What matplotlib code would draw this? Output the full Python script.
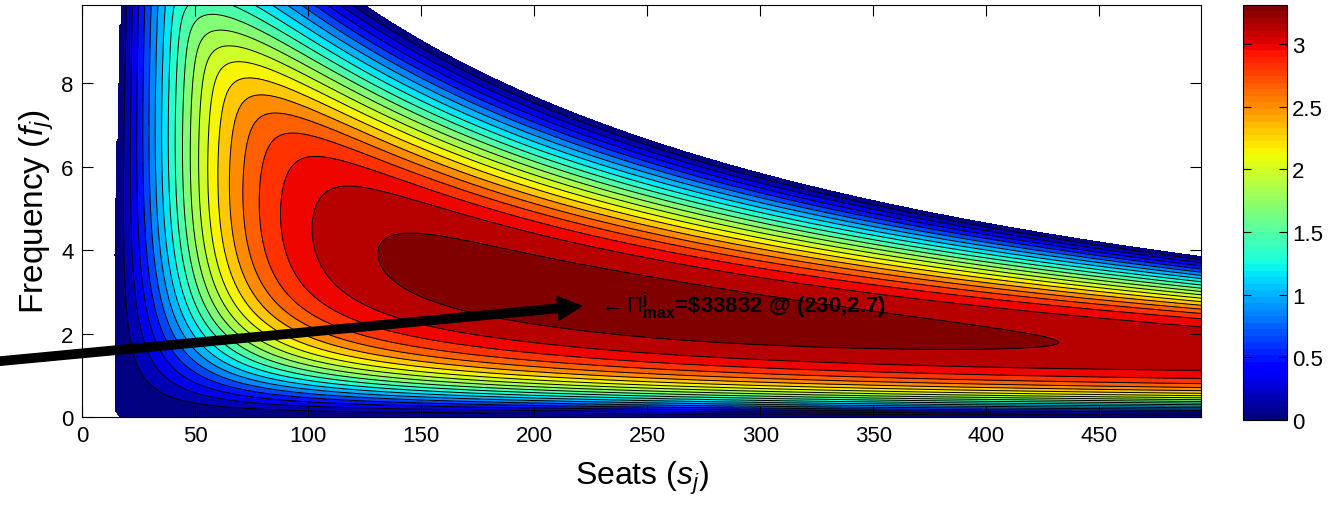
import numpy as np
import matplotlib
matplotlib.use('Agg')
import matplotlib.pyplot as plt
from matplotlib import colors

plt.rcParams['font.family'] = ['Liberation Sans', 'DejaVu Sans']
plt.rcParams['mathtext.fontset'] = 'custom'
plt.rcParams['mathtext.rm'] = 'Liberation Sans'
plt.rcParams['mathtext.it'] = 'Liberation Sans:italic'
plt.rcParams['mathtext.bf'] = 'Liberation Sans:bold'

# Shape of the profit surface (profit in 10^4 $)
seat_range = [0, 495]
freq_range = [0, 9.88]
peak_profit = 3.536           # ridge height scale
breakeven_seats = [12.5, 0.45]  # left zero contour s0 = a + b*f
seat_scale = [52.0, 0.3]      # rise with seats, tanh((s - s0) / (a + b*f))
ridge_coef = [96.6, 0.661]    # ridge frequency f_r = a * s^-b
zero_coef = [3249.0, 172.0, -1.0]   # upper zero contour f0 = a / (s + b) + c
lower_shape = [0.315, 1.3]    # rise from f = 0, scale relative to f_r and exponent
upper_slope = [1.5, 0.0]      # fall towards the upper zero contour
knee = 0.25
decline = 0.062               # slow decline past the peak seat count
peak_seats = 230.0

n_bands = 20
cbar_max = 3.31
levels = np.linspace(0, cbar_max, n_bands + 1).tolist() + [3.6]
cbar_ticks = [0, 0.5, 1, 1.5, 2, 2.5, 3]
x_ticks = [0, 50, 100, 150, 200, 250, 300, 350, 400, 450]
y_ticks = [0, 2, 4, 6, 8]

# Build the surface
s = np.linspace(seat_range[0], seat_range[1], 800)
f = np.linspace(freq_range[0], freq_range[1], 500)
S, F = np.meshgrid(s, f)
Sp = np.maximum(S, 1.0)

s0 = breakeven_seats[0] + breakeven_seats[1] * F + 4.0 * np.exp(-F / 0.25)
left = np.tanh((S - s0) / (seat_scale[0] + seat_scale[1] * F))
drift = 1 - decline * np.log(np.maximum(Sp, peak_seats) / peak_seats) ** 2
ridge = peak_profit * left * drift

f_r = ridge_coef[0] * Sp ** (-ridge_coef[1])
f0 = zero_coef[0] / (Sp + zero_coef[1]) + zero_coef[2]
lower = 1 - np.exp(-(F / (lower_shape[0] * f_r)) ** lower_shape[1])
au = (upper_slope[0] + upper_slope[1] * S) * (f0 - F) / (f0 - f_r)
upper = (1 + au - np.sqrt((1 - au) ** 2 + knee ** 2)) / 2

Z = ridge * lower * upper
Z = np.where((left > 0) & (F < f0), Z, -1.0)

# Plot
fig = plt.figure(figsize=(13.44, 5.06), dpi=100)
ax = fig.add_axes([0.0610, 0.1739, 0.8326, 0.8142])
cax = fig.add_axes([0.9249, 0.1680, 0.0327, 0.8202])

cmap = plt.get_cmap('jet', 64)
norm = colors.Normalize(vmin=0, vmax=cbar_max)
band_colors = [cmap(norm(min(lv, cbar_max - 1e-6))) for lv in levels[:-1]]
ax.contourf(S, F, Z, levels=levels, colors=band_colors)
ax.contour(S, F, Z, levels=levels[1:-1], colors='k', linewidths=0.7)

ax.set_xlim(seat_range)
ax.set_ylim(freq_range)
ax.set_xticks(x_ticks)
ax.set_yticks(y_ticks)
ax.tick_params(direction='in', length=8, width=0.8, labelsize=16, top=True, right=True, pad=6)
ax.set_xlabel(r'Seats ($s_j$)', fontsize=23, labelpad=9)
ax.set_ylabel(r'Frequency ($f_j$)', fontsize=24, labelpad=4)

# Annotation for the maximum
ax.annotate('', xy=(221, 2.66), xytext=(-40, 1.32), xycoords='data',
            arrowprops=dict(facecolor='black', edgecolor='black', width=6,
                            headwidth=17, headlength=17, shrink=0),
            annotation_clip=False)
ax.text(228, 2.52, r'$\leftarrow\Pi^{\mathbf{j}}_{\mathbf{max}}$=\$33832 @ (230,2.7)',
        fontsize=16, fontweight='bold', va='baseline', ha='left')

# Colorbar
sm = plt.cm.ScalarMappable(norm=norm, cmap=cmap)
cb = fig.colorbar(sm, cax=cax, ticks=cbar_ticks)
cb.ax.tick_params(direction='in', length=6, labelsize=16, left=True, right=True)
cb.ax.set_yticklabels(['0', '0.5', '1', '1.5', '2', '2.5', '3'])
cb.outline.set_linewidth(0.8)

fig.savefig('out.png', dpi=100)
